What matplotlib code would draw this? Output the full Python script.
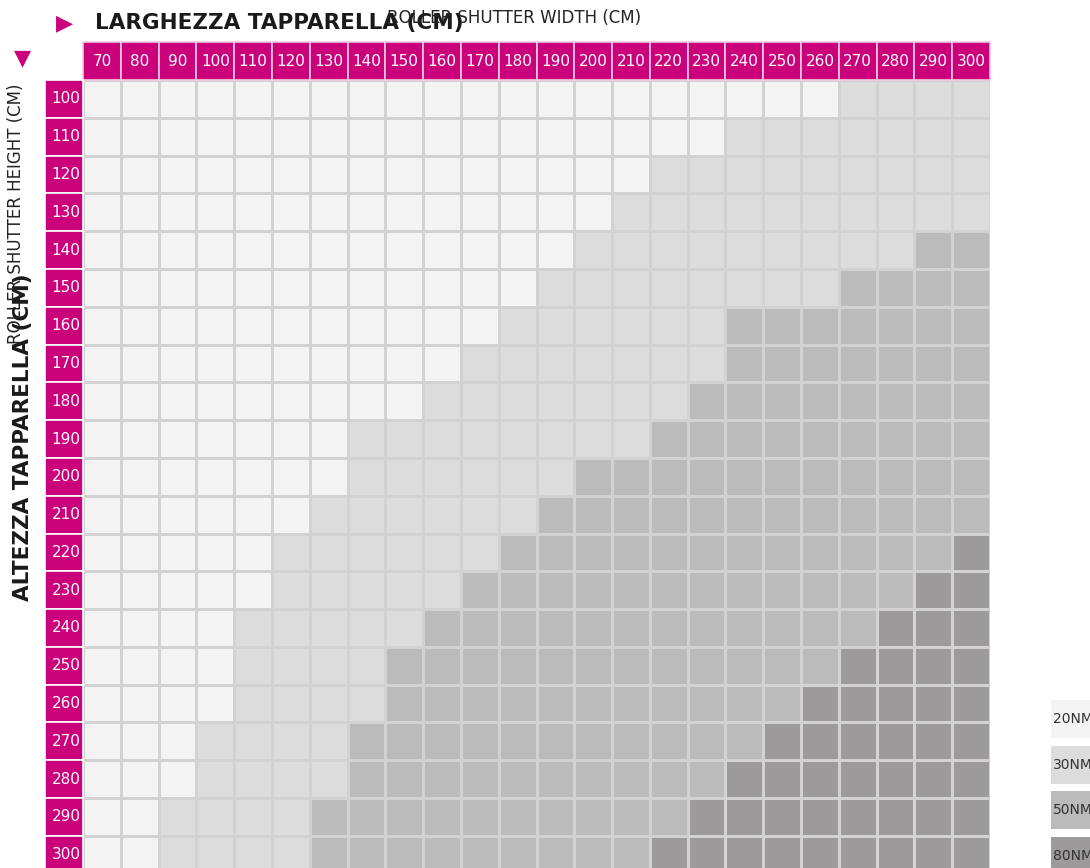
import numpy as np
import matplotlib
matplotlib.use('Agg')
import matplotlib.pyplot as plt
from matplotlib.colors import ListedColormap, BoundaryNorm
from matplotlib.patches import Rectangle

larghezze = [70, 80, 90, 100, 110, 120, 130, 140, 150, 160, 170, 180,
             190, 200, 210, 220, 230, 240, 250, 260, 270, 280, 290, 300]
altezze = [100, 110, 120, 130, 140, 150, 160, 170, 180, 190, 200,
           210, 220, 230, 240, 250, 260, 270, 280, 290, 300]
categorie = ['20NM', '30NM', '50NM', '80NM']
colori = ['#F3F3F3', '#DCDCDC', '#BBBBBB', '#9C9A9B']

# per ogni altezza: larghezza da cui inizia 30NM / 50NM / 80NM (None = mai)
inizio_30 = [270, 240, 220, 210, 200, 190, 180, 170, 160, 140, 140,
             130, 120, 120, 110, 110, 110, 100, 100, 90, 90]
inizio_50 = [None, None, None, None, 290, 270, 240, 240, 230, 220, 200,
             190, 180, 170, 160, 150, 150, 140, 140, 130, 130]
inizio_80 = [None] * 12 + [300, 290, 280, 270, 260, 250, 240, 230, 220]

magenta = '#CB007B'

Z = np.zeros((len(altezze), len(larghezze)))
for r in range(len(altezze)):
    for c, w in enumerate(larghezze):
        v = 0
        for k, s in enumerate([inizio_30[r], inizio_50[r], inizio_80[r]]):
            if s is not None and w >= s:
                v = k + 1
        Z[r, c] = v

W, H = 1090, 868
cs = (990 - 83) / 24.0
fig = plt.figure(figsize=(W / 100, H / 100), dpi=100)
ax = fig.add_axes([83 / W, (H - 80 - 21 * cs) / H, 24 * cs / W, 21 * cs / H])

cmap = ListedColormap(colori)
norm = BoundaryNorm([-0.5, 0.5, 1.5, 2.5, 3.5], 4)
xe = np.arange(len(larghezze) + 1) - 0.5
ye = np.arange(len(altezze) + 1) - 0.5
ax.pcolormesh(xe, ye, Z, cmap=cmap, norm=norm, edgecolors='#D2D2D2', linewidth=0.9)
ax.set_xlim(-0.5, len(larghezze) - 0.5)
ax.set_ylim(len(altezze) - 0.5, -0.5)
ax.axis('off')

# intestazioni colonne
for i, w in enumerate(larghezze):
    ax.add_patch(Rectangle((i - 0.5, -1.5), 1, 1, facecolor=magenta,
                           edgecolor='#F3C9E0', lw=1.2, clip_on=False))
    ax.text(i, -1, str(w), ha='center', va='center', color='white',
            fontsize=11, clip_on=False)

# intestazioni righe
for j, h in enumerate(altezze):
    ax.add_patch(Rectangle((-1.5, j - 0.5), 1, 1, facecolor=magenta,
                           edgecolor='white', lw=1.2, clip_on=False))
    ax.text(-0.95, j, str(h), ha='center', va='center', color='white',
            fontsize=11, clip_on=False)

# titoli
fig.text(65 / W, 1 - 23 / H, '▶', color=magenta, fontsize=16, ha='center', va='center')
fig.text(95 / W, 1 - 23 / H, 'LARGHEZZA TAPPARELLA (CM)', fontsize=15.5,
         fontweight='bold', color='#1A1A1A', ha='left', va='center')
fig.text(387 / W, 1 - 18 / H, 'ROLLER SHUTTER WIDTH (CM)', fontsize=12,
         color='#222222', ha='left', va='center')
fig.text(22 / W, 1 - 58 / H, '▼', color=magenta, fontsize=16, ha='center', va='center')
fig.text(23 / W, 1 - 437 / H, 'ALTEZZA TAPPARELLA (CM)', fontsize=15.5,
         fontweight='bold', color='#1A1A1A', rotation=90, ha='center', va='center')
fig.text(16 / W, 1 - 214 / H, 'ROLLER SHUTTER HEIGHT (CM)', fontsize=12,
         color='#222222', rotation=90, ha='center', va='center')

# legenda
for k, (lab, col) in enumerate(zip(categorie, colori)):
    y0 = 700 + k * 45.7
    fig.add_artist(Rectangle((1051 / W, 1 - (y0 + 38) / H), 45 / W, 38 / H,
                             transform=fig.transFigure, facecolor=col, edgecolor='none'))
    fig.text(1053 / W, 1 - (y0 + 19) / H, lab, fontsize=10, color='#333333',
             ha='left', va='center')

fig.savefig('out.png', dpi=100)
